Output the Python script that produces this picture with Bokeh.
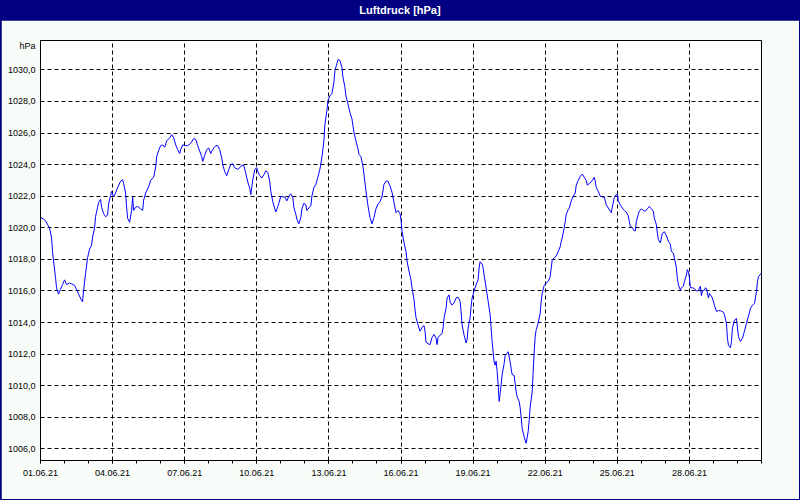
from datetime import datetime, timedelta

from bokeh.embed import file_html
from bokeh.layouts import column
from bokeh.models import Div, FixedTicker, Range1d
from bokeh.plotting import figure
from bokeh.resources import INLINE

# ---------------- data (hours after 01.06.21 00:00, pressure in hPa) ----------------
hours = [
    0, 3, 5, 7, 9, 11, 12, 13, 15, 16, 18, 20, 22, 24, 26, 29, 31, 34, 36, 38,
    41, 42, 43, 45, 47, 49, 51, 52, 54, 55, 57, 58, 60, 61, 63, 65, 67, 68, 70, 71,
    73, 75, 77, 80, 82, 83, 85, 86, 87, 89, 91, 92, 93, 95, 97, 100, 102, 103, 105, 108,
    110, 113, 115, 116, 118,
    120, 122, 124, 126, 129, 131, 133, 135, 137, 139, 140, 142, 145, 147, 150, 153, 155, 157, 159, 161,
    162, 164, 166, 168, 170, 171, 173, 175, 177, 179, 181, 182, 184, 186, 188, 190, 192, 194, 197, 199,
    201, 203, 205, 207, 209, 210, 212, 214, 216, 217, 219, 221, 223, 225, 227, 229, 230, 232, 234, 235,
    237, 238, 240,
    242, 244, 246, 248, 250, 252, 253, 255, 256, 258, 260, 261, 263, 265, 266, 268, 270, 271, 273, 275,
    277, 279, 281, 283, 284, 286, 287, 289, 291, 293, 294, 296, 297, 299, 301, 302, 304, 305, 307, 309,
    311, 313, 315, 317, 318, 320, 322, 323, 325, 327, 329, 331, 333, 335, 337, 339, 341, 343, 345, 347,
    349, 351, 353, 355, 357, 359, 360, 361,
    363, 365, 366, 368, 370, 371, 373, 374, 375, 377, 379, 380, 381, 383, 384, 385, 387, 389, 391, 393,
    395, 396, 397, 399, 401, 402, 403, 405, 406, 408, 409, 411, 413, 415, 417, 419, 420, 421, 423, 425,
    426, 427, 429, 430, 431, 433, 435, 437, 438, 439, 441, 442, 443, 445, 447, 449, 450, 451, 453, 454,
    455, 456, 457, 458, 459, 460, 461, 463, 464, 466, 467, 469, 470, 471, 473, 475, 476, 478, 479,
    480, 481, 483, 484, 485, 487, 488, 489, 491, 492, 493, 494, 495, 497, 499, 500, 501, 503, 505, 507,
    509, 510, 511, 513, 515, 517, 519, 520, 521, 523, 524, 525, 527, 528, 530, 532, 534, 535, 537, 539,
    541, 543, 545, 546, 548, 550, 551, 553, 554, 555, 557, 559, 561, 563, 565, 567, 569, 570, 571, 573,
    575, 576, 577, 579, 581, 583, 585, 587, 588, 589, 591, 593, 594, 595, 597,
    598, 600, 602, 604, 606, 608, 610, 612, 613, 615, 616, 617, 619, 620, 621, 623, 625, 627, 629, 630,
    632, 633, 635, 636, 637, 639, 640, 642, 643, 645, 646, 647, 648, 649, 651, 653, 655, 657, 658, 659,
    660, 661, 663, 664, 665, 667, 668, 669, 671, 673, 675, 677, 679, 682, 683, 685, 686, 687, 689, 690,
    691, 693, 695, 696, 697, 699, 701, 703, 705, 707, 709, 711, 713, 715, 716, 717, 719, 720,
]

pressure = [
    1020.65, 1020.55, 1020.45, 1020.2, 1020.0, 1019.4, 1018.5, 1017.9, 1016.85, 1016.2,
    1015.8, 1016.1, 1016.4, 1016.7, 1016.4, 1016.5, 1016.45, 1016.35, 1016.1, 1015.8,
    1015.4, 1015.3, 1016.0, 1017.1, 1018.1, 1018.65, 1018.9, 1019.4, 1020.0, 1020.7,
    1021.3, 1021.6, 1021.8, 1021.3, 1020.9, 1020.7, 1020.8, 1021.5, 1022.05, 1022.3,
    1021.95, 1022.2, 1022.55, 1022.95, 1023.05, 1022.8, 1022.2, 1021.3, 1020.6, 1020.35,
    1021.1, 1021.95, 1021.1, 1021.3, 1021.35, 1021.2, 1021.1, 1021.75, 1022.2, 1022.6,
    1023.0, 1023.2, 1023.85, 1024.5, 1024.9,
    1025.2, 1025.25, 1025.1, 1025.5, 1025.7, 1025.9, 1025.7, 1025.25, 1024.95, 1024.7,
    1024.95, 1025.25, 1025.2, 1025.2, 1025.35, 1025.65, 1025.6, 1025.2, 1024.85, 1024.5,
    1024.2, 1024.6, 1024.95, 1025.05, 1024.7, 1024.85, 1025.05, 1025.2, 1025.2, 1024.95,
    1024.4, 1024.0, 1023.55, 1023.3, 1023.7, 1024.0, 1024.05, 1023.8, 1023.7, 1023.8,
    1023.95, 1023.95, 1023.45, 1022.9, 1022.5, 1022.1, 1023.05, 1023.7, 1023.8, 1023.55,
    1023.3, 1023.15, 1023.35, 1023.6, 1023.5, 1022.9, 1022.3, 1021.65, 1021.2, 1021.0,
    1021.35, 1021.55, 1022.0,
    1021.95, 1021.95, 1021.7, 1022.0, 1022.15, 1021.9, 1021.3, 1020.85, 1020.55, 1020.25,
    1020.65, 1021.2, 1021.55, 1021.45, 1021.1, 1021.25, 1021.4, 1022.0, 1022.55, 1022.75,
    1023.2, 1023.7, 1024.45, 1025.5, 1026.55, 1027.4, 1028.05, 1028.35, 1028.5, 1029.2,
    1029.95, 1030.4, 1030.65, 1030.6, 1030.15, 1029.55, 1028.9, 1028.35, 1027.85, 1027.3,
    1026.9, 1026.05, 1025.5, 1025.0, 1024.65, 1024.5, 1023.9, 1023.4, 1022.35, 1021.4,
    1020.65, 1020.25, 1020.65, 1021.2, 1021.5, 1021.65, 1021.95, 1022.75, 1022.95, 1022.95,
    1022.65, 1022.25, 1021.6, 1020.95, 1021.1, 1020.9, 1020.5, 1019.8,
    1019.05, 1018.5, 1017.9, 1017.25, 1016.7, 1016.2, 1015.45, 1014.8, 1014.3, 1013.85,
    1013.45, 1013.55, 1013.7, 1013.8, 1013.45, 1012.75, 1012.65, 1012.6, 1013.05, 1013.25,
    1013.0, 1012.6, 1013.05, 1013.2, 1013.3, 1013.65, 1014.3, 1014.9, 1015.55, 1015.75,
    1015.3, 1015.1, 1015.25, 1015.55, 1015.6, 1015.35, 1014.7, 1013.85, 1013.2, 1012.7,
    1012.9, 1013.65, 1014.3, 1015.0, 1015.55, 1016.0, 1016.4, 1016.7, 1017.45, 1017.85,
    1017.7, 1017.45, 1017.0, 1016.2, 1015.35, 1014.5, 1013.65, 1012.8, 1011.5, 1011.3,
    1011.55, 1010.9, 1010.05, 1009.0, 1009.5, 1010.05, 1010.7, 1011.4, 1011.9, 1012.05,
    1012.15, 1011.5, 1011.1, 1010.7, 1010.65, 1009.6, 1009.3, 1009.0, 1008.6,
    1008.0, 1007.3, 1006.75, 1006.55, 1006.35, 1007.1, 1007.8, 1008.65, 1009.6, 1010.9,
    1012.15, 1013.1, 1013.55, 1013.95, 1014.6, 1015.35, 1015.85, 1016.35, 1016.5, 1016.6,
    1016.9, 1017.45, 1017.95, 1018.1, 1018.2, 1018.5, 1018.8, 1019.15, 1019.35, 1020.0,
    1020.4, 1020.85, 1021.15, 1021.25, 1021.7, 1022.0, 1022.2, 1022.7, 1023.0, 1023.25,
    1023.4, 1023.2, 1023.0, 1022.7, 1022.8, 1022.9, 1023.0, 1023.2, 1022.95, 1022.55,
    1022.3, 1022.0, 1021.95, 1021.95, 1021.45, 1021.25, 1021.05, 1020.95, 1021.3, 1021.9,
    1022.1, 1022.1, 1021.7, 1021.45, 1021.25, 1021.1, 1021.0, 1020.75, 1020.4, 1020.1,
    1020.0, 1019.8, 1019.8, 1020.4, 1020.85,
    1021.05, 1021.2, 1021.1, 1021.05, 1021.2, 1021.35, 1021.2, 1021.05, 1020.6, 1020.2,
    1019.65, 1019.25, 1019.05, 1019.35, 1019.65, 1019.75, 1019.5, 1019.15, 1018.95, 1018.5,
    1018.4, 1018.1, 1017.45, 1016.8, 1016.4, 1016.05, 1016.2, 1016.3, 1016.6, 1017.0,
    1017.35, 1017.2, 1016.85, 1016.2, 1016.2, 1016.15, 1016.0, 1016.0, 1016.2, 1016.3,
    1015.7, 1016.0, 1016.05, 1016.2, 1016.15, 1015.55, 1015.85, 1015.75, 1015.55, 1015.1,
    1014.7, 1014.75, 1014.75, 1014.65, 1014.5, 1013.95, 1013.0, 1012.55, 1012.4, 1012.8,
    1013.65, 1014.15, 1014.25, 1013.65, 1013.1, 1012.8, 1013.0, 1013.45, 1013.95, 1014.4,
    1014.9, 1015.1, 1015.2, 1015.95, 1016.6, 1016.9, 1017.05, 1017.15,
]

x_tick_days = [0, 3, 6, 9, 12, 15, 18, 21, 24, 27]
x_tick_labels = ["01.06.21", "04.06.21", "07.06.21", "10.06.21", "13.06.21",
                 "16.06.21", "19.06.21", "22.06.21", "25.06.21", "28.06.21"]
y_ticks = [1006, 1008, 1010, 1012, 1014, 1016, 1018, 1020, 1022, 1024, 1026, 1028, 1030]
y_tick_labels = ["1006,0", "1008,0", "1010,0", "1012,0", "1014,0", "1016,0", "1018,0",
                 "1020,0", "1022,0", "1024,0", "1026,0", "1028,0", "1030,0"]
unit_pos = 1031.5
unit_text = "hPa"
title_text = "Luftdruck [hPa]"

# ---------------- helpers ----------------
START = datetime(2021, 6, 1)
END = datetime(2021, 7, 1)
EPOCH = datetime(1970, 1, 1)


def ms(d):
    return int((d - EPOCH).total_seconds() * 1000)


xs = [START + timedelta(hours=h) for h in hours]
major_ms = [ms(START + timedelta(days=d)) for d in x_tick_days]
minor_ms = [ms(START + timedelta(days=d)) for d in range(0, 31)]

FONT = "Liberation Sans"
BG = "#f8fcf8"
NAVY = "#000080"

p = figure(
    frame_width=721, frame_height=420,
    output_backend="svg", toolbar_location=None,
    x_axis_type="datetime",
    x_range=Range1d(ms(START), ms(END)),
    y_range=Range1d(1005.26, 1031.86),
    min_border_left=39, min_border_right=38, min_border_top=20, min_border_bottom=39,
    background_fill_color="white", border_fill_color=BG,
    outline_line_color="black", outline_line_width=1,
    margin=(0, 1, 1, 1),
)

p.line(xs, pressure, line_color="#0000ff", line_width=1)

# x axis
xa = p.xaxis[0]
xa.ticker = FixedTicker(ticks=major_ms, minor_ticks=minor_ms)
xa.major_label_overrides = {t: lab for t, lab in zip(major_ms, x_tick_labels)}
xa.major_tick_out = 3
xa.major_tick_in = 0
xa.minor_tick_out = 3
xa.minor_tick_in = 0
xa.major_tick_line_color = "black"
xa.minor_tick_line_color = "black"
xa.axis_line_color = "black"
xa.major_label_standoff = 6
xa.major_label_text_font = FONT
xa.major_label_text_font_size = "9px"
xa.major_label_text_color = "black"

# y axis (the unit "hPa" sits as an extra label at the top of the axis)
ya = p.yaxis[0]
ya.ticker = FixedTicker(ticks=y_ticks + [unit_pos], minor_ticks=[])
overrides = {t: lab for t, lab in zip(y_ticks, y_tick_labels)}
overrides[unit_pos] = unit_text
ya.major_label_overrides = overrides
ya.major_tick_out = 0
ya.major_tick_in = 0
ya.minor_tick_out = 0
ya.minor_tick_in = 0
ya.axis_line_color = "black"
ya.major_label_standoff = 5
ya.major_label_text_font = FONT
ya.major_label_text_font_size = "9px"
ya.major_label_text_color = "black"

# grid
p.xgrid[0].ticker = FixedTicker(ticks=major_ms)
p.ygrid[0].ticker = FixedTicker(ticks=y_ticks)
for g in (p.xgrid[0], p.ygrid[0]):
    g.grid_line_color = "black"
    g.grid_line_dash = "4 3"
    g.grid_line_width = 1

title_div = Div(
    text=title_text, width=800, height=20, margin=0,
    styles={
        "background-color": NAVY, "color": "white", "font-weight": "bold",
        "font-family": FONT, "font-size": "11px", "text-align": "center",
        "line-height": "20px",
    },
)

layout = column(title_div, p, spacing=0, margin=0,
                styles={"background-color": NAVY})

open("out.html", "w").write(file_html(layout, INLINE))
